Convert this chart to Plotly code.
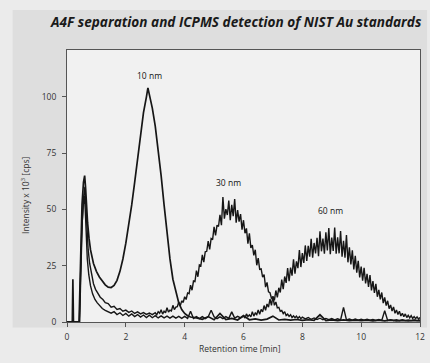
import plotly.graph_objects as go

# ---------------------------------------------------------------------------
# Data (retention time in min, intensity x 10^3 cps)
# ---------------------------------------------------------------------------

T_10NM = [
    0, 0.18, 0.2, 0.22, 0.41, 0.46, 0.51, 0.56, 0.6, 0.63, 0.66, 0.7, 0.75, 0.8,
    0.9, 1.0, 1.1, 1.2, 1.3, 1.4, 1.5, 1.6, 1.7, 1.8, 1.9, 2.0, 2.1, 2.2, 2.3,
    2.4, 2.5, 2.6, 2.7, 2.75, 2.8, 2.9, 3.0, 3.1, 3.2, 3.3, 3.4, 3.5, 3.6, 3.7,
    3.8, 3.9, 4.0, 4.1, 4.2,
    4.4, 4.6, 4.8, 5.0, 5.2, 5.4, 5.6, 5.8, 6.0, 6.2, 6.4, 6.6, 6.8, 7.0, 7.2,
    7.4, 7.6, 7.8, 8.0, 8.2, 8.4, 8.6, 8.8, 9.0, 9.2, 9.4, 9.6, 9.8, 10.0, 10.2,
    10.4, 10.6, 10.8, 11.0, 11.2, 11.4, 11.6, 11.8, 12.0,
]
I_10NM = [
    0, 0, 19, 0, 0, 28, 52, 62, 65, 60, 52, 44, 37, 32,
    26, 22.5, 20, 18, 16.5, 15.5, 15.3, 16.2, 18.5, 22.5, 28, 35, 43, 52, 62,
    73, 84, 93, 100, 104, 101, 95, 87, 77, 65, 52, 39, 28, 19, 13,
    8.5, 5.5, 3.8, 2.8, 2.2,
    1.8, 1.2, 2.4, 1.0, 3.8, 1.1, 1.6, 0.9, 2.9, 1.0, 1.4, 0.8, 1.3, 2.6, 0.9,
    1.2, 0.8, 1.1, 0.7, 1.0, 0.7, 3.2, 0.6, 0.9, 0.6, 0.9, 0.6, 0.8, 0.6, 0.8,
    0.5, 0.8, 0.5, 0.8, 0.5, 0.7, 0.5, 0.7, 0.5,
]

T_30NM = [
    0, 0.43, 0.47, 0.52, 0.57, 0.61, 0.64, 0.68, 0.72, 0.77, 0.83, 0.9, 0.97,
    1.05, 1.13, 1.22, 1.3, 1.4, 1.5, 1.6, 1.7, 1.8, 1.9, 2.0, 2.1, 2.2, 2.3,
    2.4, 2.5, 2.6, 2.7, 2.8, 2.9, 3.0,
    3.05, 3.1, 3.15, 3.2, 3.25, 3.3, 3.35, 3.4, 3.45, 3.5, 3.55, 3.6, 3.65, 3.7,
    3.75, 3.8, 3.85, 3.9, 3.95, 4.0,
    4.05, 4.1, 4.15, 4.2, 4.25, 4.3, 4.35, 4.4, 4.45, 4.5, 4.55, 4.6, 4.65, 4.7,
    4.75, 4.8, 4.85, 4.9, 4.95, 5.0,
    5.05, 5.1, 5.15, 5.2, 5.25, 5.3, 5.35, 5.4, 5.45, 5.5, 5.55, 5.6, 5.65, 5.7,
    5.75, 5.8, 5.85, 5.9, 5.95, 6.0,
    6.05, 6.1, 6.15, 6.2, 6.25, 6.3, 6.35, 6.4, 6.45, 6.5, 6.55, 6.6, 6.65, 6.7,
    6.75, 6.8, 6.85, 6.9, 6.95, 7.0,
    7.05, 7.1, 7.15, 7.2, 7.25, 7.3, 7.35, 7.4, 7.45, 7.5, 7.55, 7.6, 7.65, 7.7,
    7.75, 7.8, 7.85, 7.9, 7.95, 8.0,
    8.1, 8.2, 8.3, 8.4, 8.5, 8.6, 8.7, 8.8, 8.9, 9.0, 9.1, 9.2, 9.3, 9.4, 9.5,
    9.6, 9.7, 9.8, 9.9, 10.0, 10.1, 10.2, 10.3, 10.4, 10.5, 10.6, 10.7, 10.8,
    10.9, 11.0, 11.1, 11.2, 11.3, 11.4, 11.5, 11.6, 11.7, 11.8, 11.9, 12.0,
]
I_30NM = [
    0, 0, 22, 45, 56, 60, 52, 40, 32, 26, 21, 17, 14.5,
    13, 11, 10, 8.6, 8.2, 6.6, 7.0, 5.6, 6.0, 4.8, 5.3, 4.3, 4.9, 3.8,
    4.5, 3.6, 4.2, 3.4, 4.0, 3.3, 4.1,
    3.2, 4.6, 3.9, 5.4, 3.5, 4.8, 4.1, 6.3, 4.4, 5.3, 4.9, 7.4, 5.5, 6.6,
    6.8, 8.9, 7.2, 9.4, 8.7, 11.2,
    10.0, 12.9, 12.6, 16.4, 14.1, 18.2, 18.0, 22.8, 20.1, 25.3, 24.9, 29.8, 26.6, 31.2,
    31.4, 35.9, 32.2, 37.1, 36.6, 42.3,
    38.5, 43.0, 42.4, 47.6, 43.0, 55.5, 45.9, 50.1, 47.5, 53.9, 45.2, 52.0, 47.0, 54.6,
    44.1, 49.7, 44.6, 47.9, 41.0, 45.2,
    39.4, 41.6, 34.8, 39.4, 32.9, 34.2, 29.6, 32.1, 25.2, 28.4, 23.4, 23.6, 19.9, 21.1,
    15.5, 17.6, 13.4, 13.0, 10.6, 11.2,
    7.4, 8.9, 6.3, 6.5, 4.8, 5.1, 3.7, 4.6, 2.9, 3.5, 2.5, 3.2, 2.0, 2.7,
    1.9, 2.6, 1.6, 2.4, 1.5, 2.2,
    1.4, 2.0, 1.2, 1.8, 1.1, 1.7, 1.0, 1.6, 1.0, 1.5, 0.9, 1.4, 0.9, 6.5, 0.9,
    1.3, 0.8, 1.3, 0.8, 1.2, 0.8, 1.2, 0.8, 1.1, 0.7, 1.1, 0.7, 5.0,
    0.7, 1.0, 0.7, 1.0, 0.6, 1.0, 0.6, 0.9, 0.6, 0.9, 0.6, 0.9,
]

T_60NM = [
    0, 0.42, 0.46, 0.5, 0.55, 0.59, 0.62, 0.65, 0.69, 0.74, 0.8, 0.87, 0.95,
    1.03, 1.12, 1.2, 1.3, 1.4,
    1.5, 1.6, 1.7, 1.8, 1.9, 2.0, 2.1, 2.2, 2.3, 2.4, 2.5, 2.6, 2.7, 2.8, 2.9,
    3.0, 3.1, 3.2, 3.3, 3.4, 3.5, 3.6, 3.7, 3.8, 3.9, 4.0, 4.1, 4.2, 4.3, 4.4,
    4.5, 4.6, 4.7, 4.8, 4.9, 5.0, 5.1, 5.2, 5.3, 5.4, 5.5, 5.6, 5.7, 5.8, 5.9, 6.0,
    6.05, 6.1, 6.15, 6.2, 6.25, 6.3, 6.35, 6.4, 6.45, 6.5, 6.55, 6.6, 6.65, 6.7,
    6.75, 6.8, 6.85, 6.9, 6.95, 7.0,
    7.05, 7.1, 7.15, 7.2, 7.25, 7.3, 7.35, 7.4, 7.45, 7.5, 7.55, 7.6, 7.65, 7.7,
    7.75, 7.8, 7.85, 7.9, 7.95, 8.0,
    8.05, 8.1, 8.15, 8.2, 8.25, 8.3, 8.35, 8.4, 8.45, 8.5, 8.55, 8.6, 8.65, 8.7,
    8.75, 8.8, 8.85, 8.9, 8.95, 9.0,
    9.05, 9.1, 9.15, 9.2, 9.25, 9.3, 9.35, 9.4, 9.45, 9.5, 9.55, 9.6, 9.65, 9.7,
    9.75, 9.8, 9.85, 9.9, 9.95, 10.0,
    10.05, 10.1, 10.15, 10.2, 10.25, 10.3, 10.35, 10.4, 10.45, 10.5, 10.55, 10.6,
    10.65, 10.7, 10.75, 10.8, 10.85, 10.9, 10.95, 11.0,
    11.05, 11.1, 11.15, 11.2, 11.25, 11.3, 11.35, 11.4, 11.45, 11.5, 11.55, 11.6,
    11.65, 11.7, 11.75, 11.8, 11.85, 11.9, 11.95, 12.0,
]
I_60NM = [
    0, 0, 20, 40, 52, 56, 50, 38, 28, 21, 16, 12.5, 10,
    8.5, 7, 6, 5.2, 4.4,
    3.9, 4.6, 3.3, 4.1, 2.9, 3.8, 2.6, 3.6, 2.4, 3.3, 2.2, 3.1, 2.0, 3.0, 1.9,
    2.8, 1.8, 2.7, 1.8, 2.6, 1.7, 2.6, 1.7, 2.5, 1.6, 2.5, 1.6, 4.8, 1.6, 2.4,
    1.5, 2.4, 1.5, 2.3, 5.2, 2.3, 1.5, 2.3, 1.5, 2.4, 1.6, 4.5, 1.7, 2.5, 1.8, 2.6,
    1.8, 3.6, 2.4, 3.2, 2.3, 4.6, 2.6, 4.0, 3.3, 5.3, 3.4, 5.6, 4.5, 7.3,
    5.2, 8.0, 6.6, 10.2, 7.4, 11.4,
    9.6, 14.0, 10.9, 15.2, 13.1, 18.8, 14.6, 20.2, 17.4, 23.9, 18.1, 24.2, 20.6, 27.8,
    21.5, 26.9, 23.9, 31.9, 24.4, 30.6,
    26.2, 34.0, 27.1, 33.8, 29.0, 36.9, 28.6, 35.1, 30.5, 37.4, 29.2, 40.3, 31.4, 37.0,
    30.3, 39.8, 31.8, 41.7, 30.1, 37.5,
    31.6, 42.0, 30.3, 37.6, 30.5, 40.4, 29.0, 36.1, 28.6, 38.6, 26.5, 33.2, 25.6, 31.8,
    23.3, 29.4, 21.9, 27.2, 19.8, 24.6,
    18.4, 24.1, 17.1, 21.4, 15.6, 20.8, 14.0, 18.2, 12.9, 16.9, 11.2, 14.3,
    10.0, 13.1, 8.4, 10.9, 7.3, 9.4, 5.9, 7.6,
    4.9, 6.7, 3.9, 5.3, 3.3, 4.8, 2.7, 3.9, 2.4, 3.6, 2.0, 3.0,
    1.8, 2.8, 1.6, 2.4, 1.5, 2.3, 1.3, 2.0,
]

PEAK_LABELS = ["10 nm", "30 nm", "60 nm"]
PEAK_LABEL_X = [2.8, 5.5, 8.95]
PEAK_LABEL_Y = [109.5, 62, 49.5]

X_TICKS = [0, 2, 4, 6, 8, 10, 12]
Y_TICKS = [0, 25, 50, 75, 100]

# ---------------------------------------------------------------------------
# Plot
# ---------------------------------------------------------------------------

INK = "#161616"
fig = go.Figure()
for t, i, w in [(T_60NM, I_60NM, 1.4), (T_30NM, I_30NM, 1.4), (T_10NM, I_10NM, 1.7)]:
    fig.add_trace(go.Scatter(x=t, y=i, mode="lines", line=dict(color=INK, width=w),
                             showlegend=False, hoverinfo="skip"))

for label, x, y in zip(PEAK_LABELS, PEAK_LABEL_X, PEAK_LABEL_Y):
    fig.add_annotation(x=x, y=y, text=label, showarrow=False,
                       font=dict(family="Open Sans", size=8.5, color="#111"))

# title and axis titles placed where the scan has them
text_pos = dict(xref="paper", yref="paper", showarrow=False, xanchor="center", yanchor="middle")
fig.add_annotation(x=0.478, y=1.103,
                   text="<b><i>A4F separation and ICPMS detection of NIST Au standards</i></b>",
                   font=dict(family="Open Sans", size=13.6, color="#1a1a1a"), **text_pos)
fig.add_annotation(x=0.489, y=-0.096, text="Retention time [min]",
                   font=dict(family="Open Sans", size=8.5, color="#333"), **text_pos)
fig.add_annotation(x=-0.117, y=0.466, text="Intensity x 10<sup>3</sup> [cps]", textangle=-90,
                   font=dict(family="Open Sans", size=8.5, color="#333"), **text_pos)

# scanned page background: darker panel behind title / y labels, light plot area
fig.add_shape(type="rect", xref="paper", yref="paper", x0=-0.154, x1=1.02, y0=-0.02, y1=1.147,
              fillcolor="#dedede", line_width=0, layer="below")
fig.add_shape(type="rect", xref="paper", yref="paper", x0=0, x1=1, y0=0, y1=1,
              fillcolor="#f1f1f1", line_width=0, layer="below")

axis_common = dict(showline=True, linecolor="#555", linewidth=1, mirror=True, showgrid=False,
                   zeroline=False, ticks="outside", ticklen=4, tickcolor="#555",
                   tickfont=dict(family="Open Sans", size=8.5, color="#333"))
fig.update_xaxes(range=[0, 12], tickvals=X_TICKS, ticklabelstandoff=3, **axis_common)
fig.update_yaxes(range=[0, 120.8], tickvals=Y_TICKS, ticklabelstandoff=4, **axis_common)

fig.update_layout(
    width=430, height=363,
    margin=dict(l=67, r=5, t=50, b=41),
    paper_bgcolor="#ebebeb", plot_bgcolor="rgba(0,0,0,0)",
)

# the page's default body margin would shift the fixed-size figure
fig.write_html("out.html", config={"displayModeBar": False},
               post_script="document.body.style.margin='0';")
